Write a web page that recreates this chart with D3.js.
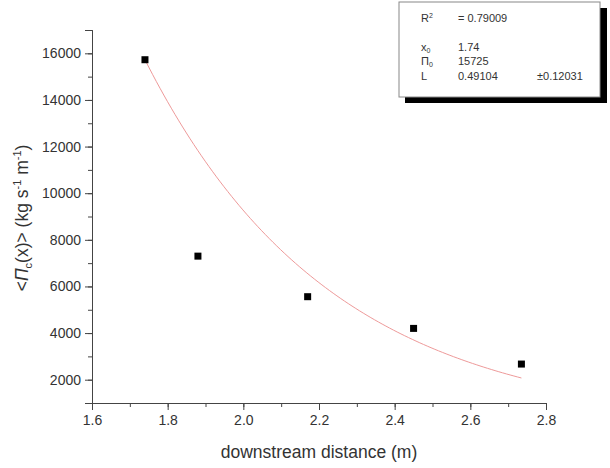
<!DOCTYPE html>
<html>
<head>
    <meta charset="utf-8" />
    <script src="https://cdn.jsdelivr.net/npm/d3@7/dist/d3.min.js"></script>
    <style>
        body { margin: 0; background: #fff; }
        text { font-family: "Liberation Sans", Arial, sans-serif; fill: #333; }
    </style>
</head>
<body>
    <script>
        // measured points
        var distances = [1.74, 1.88, 2.17, 2.45, 2.735];
        var fluxes = [15725, 7300, 5560, 4200, 2670];

        // exponential fit shown in the box
        var fitNames = ['x0', 'P0', 'L'];
        var fitValues = [1.74, 15725, 0.49104];
        var fitErrors = ['', '', '\u00b10.12031'];
        var rSquared = 0.79009;

        var xTicks = [1.6, 1.8, 2.0, 2.2, 2.4, 2.6, 2.8];
        var yTicks = [2000, 4000, 6000, 8000, 10000, 12000, 14000, 16000];

        var width = 610;
        var height = 468;

        var svg = d3.select('body')
            .append('svg')
            .attr('width', width)
            .attr('height', height);

        var x = d3.scaleLinear().domain([1.6, 2.8]).range([92, 546]);
        var y = d3.scaleLinear().domain([1000, 17000]).range([403, 30]);

        var axisColor = '#444';

        // x axis
        var xAxis = svg.append('g')
            .attr('transform', 'translate(0,403)')
            .call(d3.axisBottom(x).tickValues(d3.range(16, 29, 1).map(function (d) { return d / 10; }))
                .tickSize(4).tickFormat(''));
        xAxis.append('g').call(d3.axisBottom(x).tickValues(xTicks).tickSize(7)
            .tickFormat(d3.format('.1f')).tickPadding(5));
        xAxis.selectAll('path, line').attr('stroke', axisColor);
        xAxis.selectAll('text').attr('font-size', 14).attr('fill', '#333')
            .attr('font-family', '"Liberation Sans", Arial, sans-serif');

        // y axis
        var yAxis = svg.append('g')
            .attr('transform', 'translate(92,0)')
            .call(d3.axisLeft(y).tickValues(d3.range(1000, 17001, 1000))
                .tickSize(4).tickFormat(''));
        yAxis.append('g').call(d3.axisLeft(y).tickValues(yTicks).tickSize(7)
            .tickFormat(d3.format('d')).tickPadding(4));
        yAxis.selectAll('path, line').attr('stroke', axisColor);
        yAxis.selectAll('text').attr('font-size', 14).attr('fill', '#333')
            .attr('font-family', '"Liberation Sans", Arial, sans-serif');

        // fitted curve
        var curveX = d3.range(0, 101).map(function (i) {
            return fitValues[0] + (distances[distances.length - 1] - fitValues[0]) * i / 100;
        });
        var line = d3.line()
            .x(function (d) { return x(d); })
            .y(function (d) { return y(fitValues[1] * Math.exp(-(d - fitValues[0]) / fitValues[2])); });
        svg.append('path')
            .datum(curveX)
            .attr('d', line)
            .attr('fill', 'none')
            .attr('stroke', '#ee9a9a')
            .attr('stroke-width', 1);

        // points
        svg.selectAll('rect.pt')
            .data(distances)
            .enter()
            .append('rect')
            .attr('class', 'pt')
            .attr('x', function (d) { return x(d) - 3.5; })
            .attr('y', function (d, i) { return y(fluxes[i]) - 3.5; })
            .attr('width', 7)
            .attr('height', 7)
            .attr('fill', '#000');

        // axis titles
        svg.append('text')
            .attr('x', 319)
            .attr('y', 458)
            .attr('text-anchor', 'middle')
            .attr('font-size', 17.5)
            .text('downstream distance (m)');

        var yTitle = svg.append('text')
            .attr('transform', 'translate(28,218) rotate(-90)')
            .attr('text-anchor', 'middle')
            .attr('font-size', 17.5);
        yTitle.append('tspan').text('<');
        yTitle.append('tspan').attr('font-style', 'italic').text('\u03a0');
        yTitle.append('tspan').attr('font-size', 11).attr('dy', 4).text('c');
        yTitle.append('tspan').attr('dy', -4).text('(x)> (kg s');
        yTitle.append('tspan').attr('font-size', 11).attr('dy', -7).text('-1');
        yTitle.append('tspan').attr('dy', 7).text(' m');
        yTitle.append('tspan').attr('font-size', 11).attr('dy', -7).text('-1');
        yTitle.append('tspan').attr('dy', 7).text(')');

        // fit box
        var box = svg.append('g');
        box.append('rect').attr('x', 405).attr('y', 8).attr('width', 202).attr('height', 95).attr('fill', '#000');
        box.append('rect').attr('x', 399).attr('y', 2).attr('width', 201).attr('height', 95)
            .attr('fill', '#fff').attr('stroke', '#888').attr('stroke-width', 1);

        var r2 = box.append('text').attr('x', 421).attr('y', 22).attr('font-size', 11);
        r2.append('tspan').text('R');
        r2.append('tspan').attr('font-size', 7).attr('dy', -4).text('2');
        box.append('text').attr('x', 458).attr('y', 22).attr('font-size', 11)
            .text('=  ' + rSquared.toFixed(5));

        var rowY = [51, 65, 80];
        fitNames.forEach(function (name, i) {
            var t = box.append('text').attr('x', 421).attr('y', rowY[i]).attr('font-size', 11);
            if (name === 'x0') {
                t.append('tspan').text('x');
                t.append('tspan').attr('font-size', 7).attr('dy', 2).text('0');
            } else if (name === 'P0') {
                t.append('tspan').text('\u03a0');
                t.append('tspan').attr('font-size', 7).attr('dy', 2).text('0');
            } else {
                t.text(name);
            }
            box.append('text').attr('x', 458).attr('y', rowY[i]).attr('font-size', 11).text(fitValues[i]);
            box.append('text').attr('x', 537).attr('y', rowY[i]).attr('font-size', 11).text(fitErrors[i]);
        });
    </script>
</body>
</html>
